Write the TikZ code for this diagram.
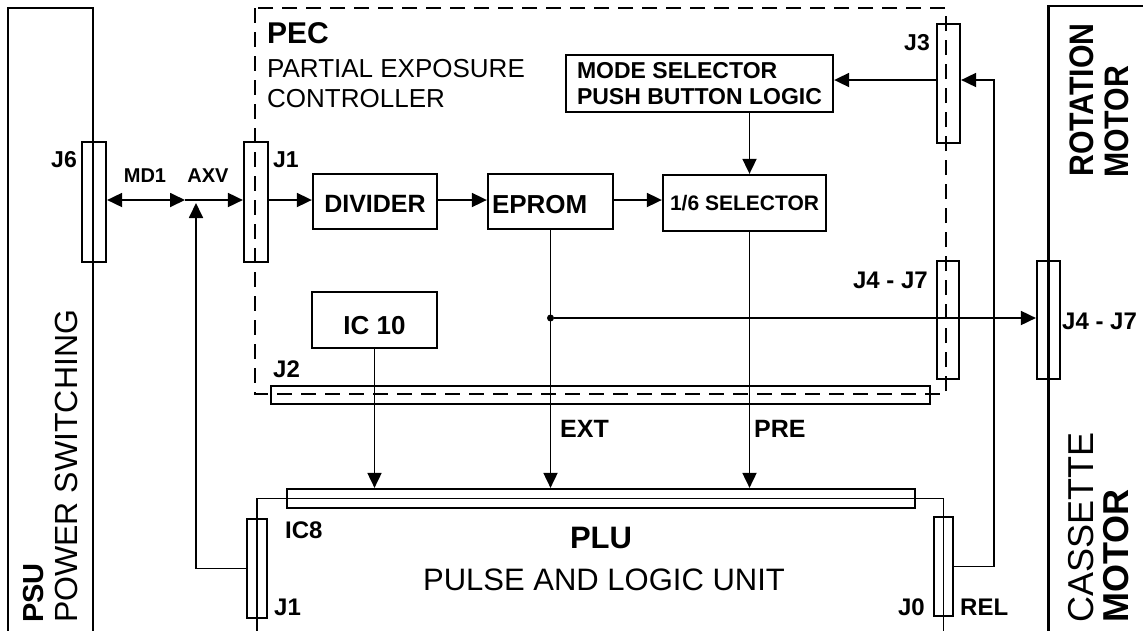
\documentclass[tikz,border=0pt]{standalone}
\usepackage{fontspec}
\setmainfont{Liberation Sans}
\newfontfamily\condfont[FakeStretch=0.89]{Liberation Sans}
\usetikzlibrary{arrows.meta}
\tikzset{
  lw/.style={line width=1.8pt},
  arr/.style={lw, -{Triangle[length=15pt,width=14pt]}},
  darr/.style={lw, {Triangle[length=15pt,width=14pt]}-{Triangle[length=15pt,width=14pt]}},
  box/.style={draw, line width=2.3pt, inner sep=0pt, font=\bfseries\fontsize{25}{28}\selectfont},
  conn/.style={draw, line width=2.2pt, inner sep=0pt},
  lbl/.style={inner sep=0pt, font=\bfseries\fontsize{24}{26}\selectfont},
  reg/.style={inner sep=0pt, font=\fontsize{26}{28}\selectfont},
  pecline/.style={line width=1.4pt, dash pattern=on 15pt off 9pt},
  frame/.style={line width=2.3pt},
  dot/.style={circle, fill, inner sep=0pt, minimum size=7pt},
}
\begin{document}
\begin{tikzpicture}[x=1pt,y=-1pt]
\useasboundingbox (0,0) rectangle (1143,630);
% outer frames
\draw[frame] (8,634) -- (8,8) -- (93,8) -- (93,634);
\draw[frame] (1048.5,634) -- (1048.5,6) -- (1146,6);
% PEC dashed outline
\draw[pecline] (255,8) rectangle (946,394);

% connectors
\node[conn, minimum width=24, minimum height=120] (j6) at (94,202) {};
\node[conn, minimum width=24, minimum height=120] (j1) at (256,202) {};
\node[conn, minimum width=23, minimum height=119] (j3) at (948.5,83.5) {};
\node[conn, minimum width=22, minimum height=118] (j47a) at (948,320) {};
\node[conn, minimum width=23, minimum height=118] (j47b) at (1048.5,320) {};
\node[conn, minimum width=659, minimum height=18] (j2) at (600.5,395) {};
\node[conn, minimum width=628, minimum height=19] (plubar) at (601,498.5) {};
\node[conn, minimum width=20, minimum height=99] (j1b) at (257,568.5) {};
\node[conn, minimum width=19, minimum height=99] (j0) at (943.5,566.5) {};

% blocks
\node[box, minimum width=124, minimum height=55, text height=21pt, text depth=0pt] (divider) at (375,201.5) {DIVIDER};
\node[box, minimum width=125, minimum height=55, text width=117pt, align=left, text height=23pt, text depth=0pt, font=\bfseries\fontsize{26}{28}\selectfont] (eprom) at (550.5,201.5) {EPROM};
\node[box, minimum width=163, minimum height=56, text height=14pt, text depth=0pt, font=\bfseries\fontsize{21}{24}\selectfont] (sel16) at (744.5,203) {1/6 SELECTOR};
\node[box, minimum width=267, minimum height=57, align=left, font=\bfseries\fontsize{23}{26}\selectfont] (mode) at (699.5,83.5) {MODE SELECTOR\\PUSH BUTTON LOGIC};
\node[box, minimum width=125, minimum height=56, text height=28pt, text depth=0pt, font=\bfseries\fontsize{26}{28}\selectfont] (ic10) at (374.5,320) {IC 10};

% helper coordinates
\coordinate (axvL) at (185,200);
\coordinate (axvB) at (196,203);
\coordinate (xsel) at (749.5,0);
\coordinate (y318) at (0,318);
\coordinate (r80) at (994,80);
\coordinate (b1) at (257,634);
\coordinate (b2) at (943.5,634);

% main signal path
\draw[darr] (j6.east |- axvL) -- (axvL);
\draw[arr] (axvL) -- (j1.west |- axvL);
\draw[arr] (j1.east |- axvL) -- (divider.west |- axvL);
\draw[arr] (divider.east |- axvL) -- (eprom.west |- axvL);
\draw[arr] (eprom.east |- axvL) -- (sel16.west |- axvL);
\draw[arr] (j1b.west) -| (axvB);

% vertical connections
\draw[arr] (mode.south -| xsel) -- (sel16.north -| xsel);
\draw[arr] (sel16.south -| xsel) -- (plubar.north -| xsel);
\draw[arr] (eprom.south) -- (eprom.south |- plubar.north);
\draw[arr] (ic10.south) -- (ic10.south |- plubar.north);
\node[dot] (jn) at (eprom.south |- y318) {};
\draw[arr] (jn) -- (jn -| j47b.west);

% J3 connections
\draw[arr] (j3.west |- r80) -- (mode.east |- r80);
\draw[arr] (j0.east) -| (r80) -- (j3.east |- r80);

% PLU line
\draw[lw] (b1) |- (plubar.center) -| (b2);

% labels
\node[lbl, anchor=base west, font=\bfseries\fontsize{30}{32}\selectfont] (pec) at (267,43) {PEC};
\node[reg, anchor=base west] (pec1) at (267,77) {PARTIAL EXPOSURE};
\node[reg, anchor=base west] (pec2) at (267,107) {CONTROLLER};
\node[lbl, anchor=base east, font=\bfseries\fontsize{23}{25}\selectfont] (lj6) at (77,167) {J6};
\node[lbl, anchor=base, font=\bfseries\fontsize{20}{22}\selectfont] (lmd1) at (145,182) {MD1};
\node[lbl, anchor=base, font=\bfseries\fontsize{20}{22}\selectfont] (laxv) at (208,182) {AXV};
\node[lbl, anchor=base west, font=\bfseries\fontsize{23}{25}\selectfont] (lj1) at (273,167) {J1};
\node[lbl, anchor=base east, font=\bfseries\fontsize{23}{25}\selectfont] (lj3) at (930,50) {J3};
\node[lbl, anchor=base east] (lj47a) at (928,288) {J4 - J7};
\node[lbl, anchor=base west] (lj47b) at (1062,329) {J4 - J7};
\node[lbl, anchor=base west] (lj2) at (273,377) {J2};
\node[lbl, anchor=base west, font=\bfseries\fontsize{25}{27}\selectfont] (lext) at (560,437) {EXT};
\node[lbl, anchor=base west, font=\bfseries\fontsize{25}{27}\selectfont] (lpre) at (754,437) {PRE};
\node[lbl, anchor=base west] (lic8) at (285,538) {IC8};
\node[lbl, anchor=base west] (lj1b) at (274,615) {J1};
\node[lbl, anchor=base east] (lj0) at (925,615) {J0};
\node[lbl, anchor=base west] (lrel) at (960,615) {REL};
\node[lbl, anchor=base, font=\bfseries\fontsize{31}{33}\selectfont] (lplu) at (601,548) {PLU};
\node[reg, anchor=base, font=\fontsize{31}{33}\selectfont] (lplu2) at (604,590) {PULSE AND LOGIC UNIT};

% rotated labels
\node[inner sep=0pt, anchor=base west, rotate=90, font=\bfseries\fontsize{29}{31}\selectfont] (lpsu) at (43,623) {PSU};
\node[inner sep=0pt, anchor=base west, rotate=90, font=\fontsize{32}{34}\selectfont] (lpsu2) at (77,623) {POWER SWITCHING};
\node[inner sep=0pt, anchor=base west, rotate=90, font=\condfont\bfseries\fontsize{34}{36}\selectfont] (lrot) at (1093,177) {ROTATION};
\node[inner sep=0pt, anchor=base west, rotate=90, font=\condfont\bfseries\fontsize{34}{36}\selectfont] (lrot2) at (1128,178) {MOTOR};
\node[inner sep=0pt, anchor=base west, rotate=90, font=\fontsize{36}{38}\selectfont] (lcas) at (1093,623) {CASSETTE};
\node[inner sep=0pt, anchor=base west, rotate=90, font=\bfseries\fontsize{36}{38}\selectfont] (lcas2) at (1128,623) {MOTOR};
\end{tikzpicture}
\end{document}
